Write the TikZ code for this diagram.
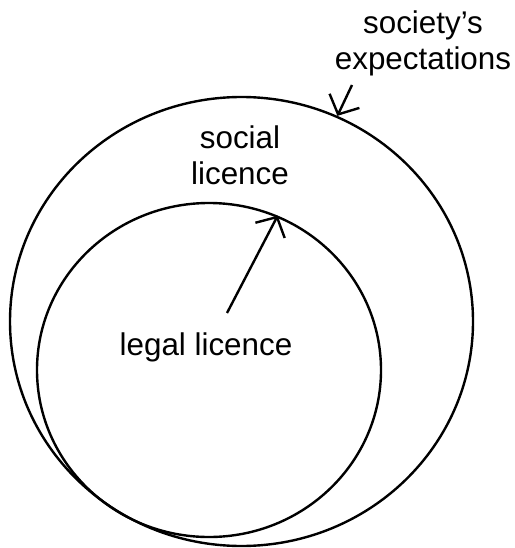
\documentclass[tikz,border=0pt]{standalone}
\usepackage{fontspec}
\setmainfont{Liberation Sans}
\usetikzlibrary{shapes.geometric,arrows.meta}
\begin{document}
\begin{tikzpicture}[x=1bp,y=-1bp,
  ring/.style={draw, ellipse, line width=2.4bp, inner sep=0pt},
  lbl/.style={font=\fontsize{31.5}{36.5}\selectfont, align=center, inner sep=0pt, anchor=base},
  pointer/.style={line width=2.4bp, -{Straight Barb[length=15bp,width=33bp]}}]
\useasboundingbox (0,0) rectangle (515,548);
\node[ring, minimum width=463bp, minimum height=449bp] (outer) at (241.5,321.5) {};
\node[ring, minimum width=344bp, minimum height=334bp] (inner) at (209,370) {};
\node[lbl] (soc) at (423,70) {society’s\\expectations};
\node[lbl] (social) at (240,185) {social\\licence};
\node[lbl] (legal) at (206,355) {legal licence};
\coordinate (s1) at (352,85);
\coordinate (s2) at (227,313);
\draw[pointer] (s1) -- (outer.65);
\draw[pointer] (s2) -- (inner.66.7);
\end{tikzpicture}
\end{document}
